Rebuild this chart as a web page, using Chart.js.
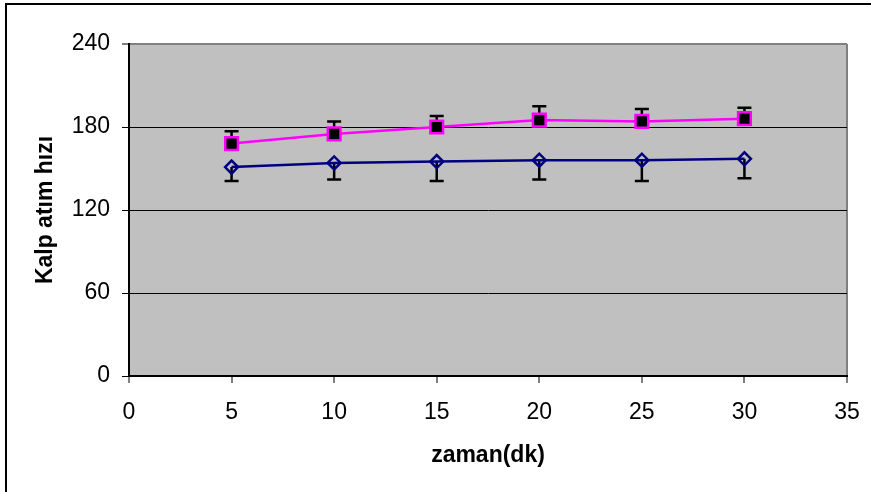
<!DOCTYPE html>
<html lang="tr">
<head>
  <meta charset="UTF-8">
  <title>Kalp atım hızı</title>
  <script src="https://cdn.jsdelivr.net/npm/chart.js@4.4.0/dist/chart.umd.min.js"></script>
  <style>
    body { margin: 0; background: #fff; }
    #wrap { width: 871px; height: 492px; }
  </style>
</head>
<body>
  <div id="wrap"><canvas id="hr-chart"></canvas></div>

  <script>
    // değerler
    const zaman = [5, 10, 15, 20, 25, 30];
    const grup1 = [151, 154, 155, 156, 156, 157];
    const grup1Err = [10, 12, 14, 14, 15, 14];
    const grup2 = [168, 175, 180, 185, 184, 186];
    const grup2Err = [9, 9, 8, 10, 9, 8];
    const xTicks = [0, 5, 10, 15, 20, 25, 30, 35];
    const yTicks = [0, 60, 120, 180, 240];

    const FONT = "'Liberation Sans', Arial, sans-serif";

    const toPoints = (ys) => zaman.map((x, i) => ({ x, y: ys[i] }));

    // arka plan + dış çerçeve
    const bgPlugin = {
      id: 'bg',
      beforeDraw(chart) {
        const { ctx, chartArea: a } = chart;
        ctx.save();
        ctx.fillStyle = '#c0c0c0';
        ctx.fillRect(a.left, a.top, a.right - a.left, a.bottom - a.top);
        ctx.strokeStyle = '#000';
        ctx.lineWidth = 2;
        ctx.beginPath();
        ctx.moveTo(6, chart.height);
        ctx.lineTo(6, 4);
        ctx.lineTo(chart.width, 4);
        ctx.stroke();
        ctx.restore();
      }
    };

    // hata çubukları: grup2 yukarı, grup1 aşağı
    const errPlugin = {
      id: 'errbars',
      beforeDatasetsDraw(chart) {
        const { ctx, scales: { x, y } } = chart;
        const sets = [[grup1, grup1Err, -1], [grup2, grup2Err, 1]];
        ctx.save();
        ctx.strokeStyle = '#000';
        ctx.lineWidth = 2.5;
        sets.forEach(([vals, errs, dir]) => {
          vals.forEach((v, i) => {
            const px = x.getPixelForValue(zaman[i]);
            const y0 = y.getPixelForValue(v);
            const y1 = y.getPixelForValue(v + dir * errs[i]);
            ctx.beginPath();
            ctx.moveTo(px, y0);
            ctx.lineTo(px, y1);
            ctx.moveTo(px - 7, y1);
            ctx.lineTo(px + 7, y1);
            ctx.stroke();
          });
        });
        ctx.restore();
      }
    };

    new Chart(document.getElementById('hr-chart'), {
      type: 'scatter',
      data: {
        datasets: [
          {
            label: 'Grup 1',
            data: toPoints(grup1),
            showLine: true,
            borderColor: '#000080',
            borderWidth: 2.5,
            pointStyle: 'rectRot',
            pointRadius: 6.5,
            pointBorderWidth: 2.5,
            pointBorderColor: '#000080',
            pointBackgroundColor: 'rgba(0,0,0,0)'
          },
          {
            label: 'Grup 2',
            data: toPoints(grup2),
            showLine: true,
            borderColor: '#ff00ff',
            borderWidth: 2.5,
            pointStyle: 'rect',
            pointRadius: 9,
            pointBorderWidth: 2.5,
            pointBorderColor: '#ff00ff',
            pointBackgroundColor: '#000'
          }
        ]
      },
      options: {
        responsive: true,
        maintainAspectRatio: false,
        animation: false,
        layout: { padding: { top: 44, right: 24, left: 0, bottom: 0 } },
        plugins: {
          legend: { display: false },
          tooltip: { enabled: false }
        },
        scales: {
          x: {
            type: 'linear',
            min: 0,
            max: 35,
            afterFit: (s) => { s.height = 116; s.paddingLeft = 0; s.paddingRight = 0; },
            afterBuildTicks: (s) => { s.ticks = xTicks.map(v => ({ value: v })); },
            ticks: { color: '#000', padding: 16, font: { family: FONT, size: 23 } },
            grid: {
              color: (c) => c.tick && c.tick.value === 35 ? '#808080' : 'rgba(0,0,0,0)',
              lineWidth: 2,
              tickColor: '#000',
              tickLength: 7,
              tickWidth: 1
            },
            border: { color: '#000', width: 2 },
            title: {
              display: true,
              text: 'zaman(dk)',
              color: '#000',
              padding: { bottom: 23 },
              font: { family: FONT, size: 23, weight: 'bold' }
            }
          },
          y: {
            min: 0,
            max: 240,
            afterFit: (s) => { s.width = 129; s.paddingTop = 0; s.paddingBottom = 0; },
            afterBuildTicks: (s) => { s.ticks = yTicks.map(v => ({ value: v })); },
            ticks: { color: '#000', padding: 12, font: { family: FONT, size: 23 } },
            grid: {
              color: (c) => c.tick && c.tick.value === 240 ? '#808080' : '#000',
              lineWidth: (c) => c.tick && c.tick.value === 240 ? 2 : 1,
              tickColor: '#000',
              tickLength: 7,
              tickWidth: 1
            },
            border: { color: '#000', width: 2 },
            title: {
              display: true,
              text: 'Kalp atım hızı',
              color: '#000',
              padding: { top: 32 },
              font: { family: FONT, size: 23, weight: 'bold' }
            }
          }
        }
      },
      plugins: [bgPlugin, errPlugin]
    });
  </script>
</body>
</html>
